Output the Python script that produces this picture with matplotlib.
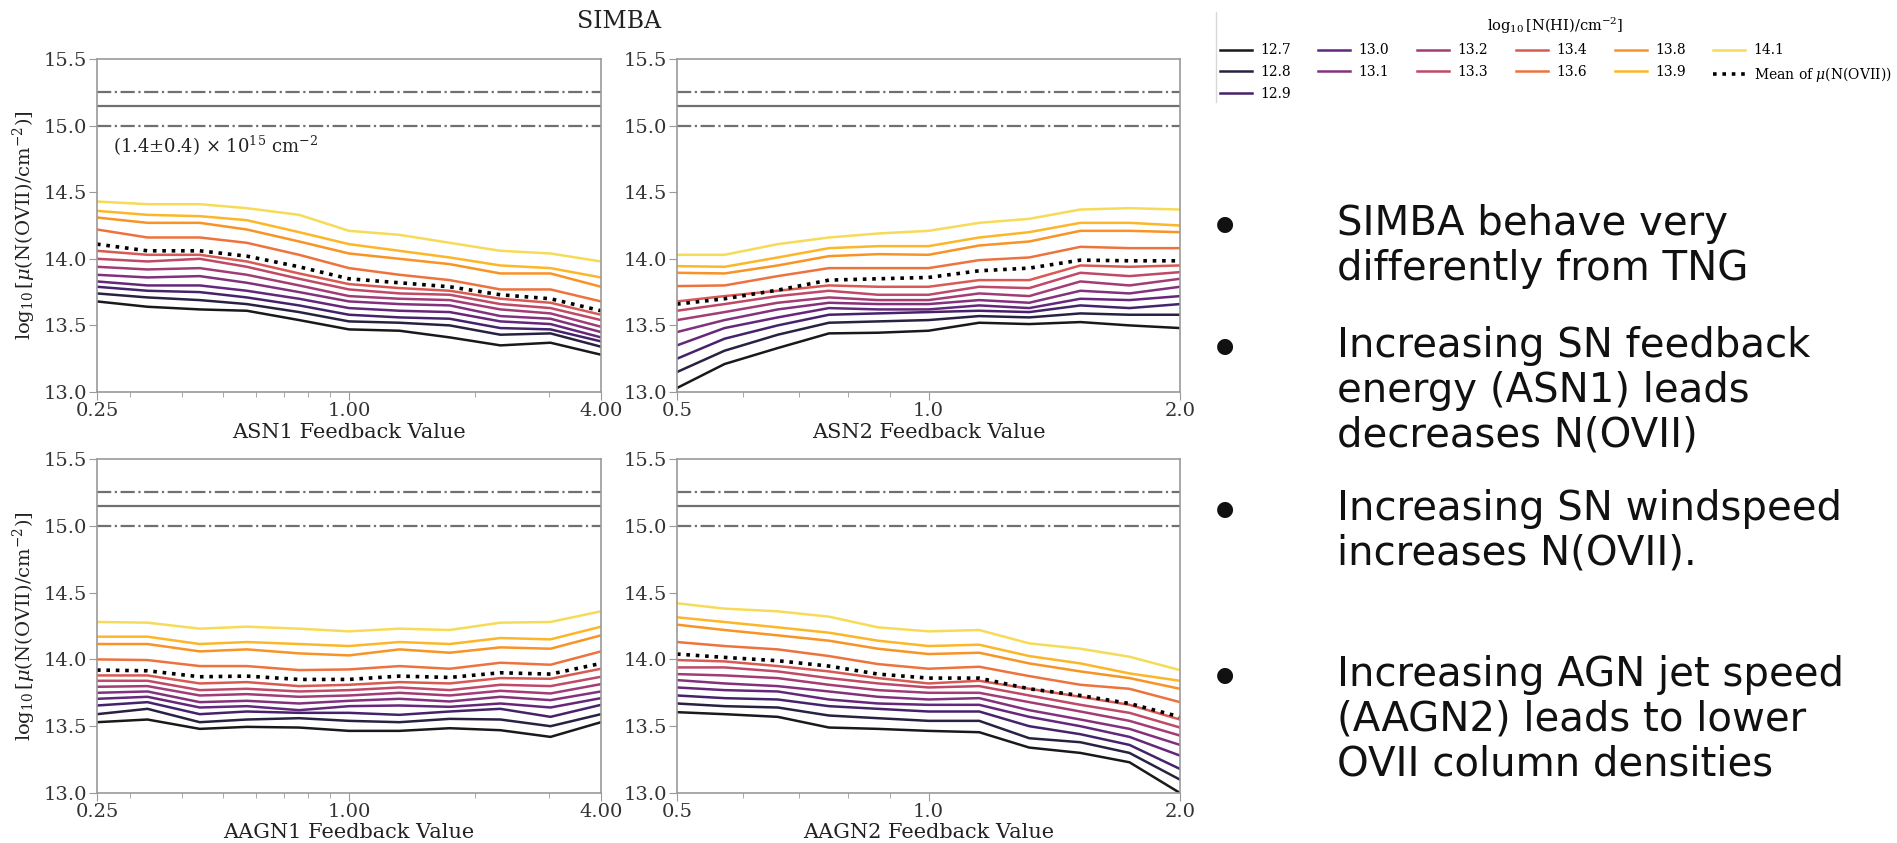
import matplotlib
matplotlib.use("Agg")
import matplotlib.pyplot as plt
import numpy as np
from matplotlib.lines import Line2D
from matplotlib.ticker import FixedLocator, FixedFormatter, NullFormatter

# HI column density thresholds (log10 N(HI)/cm^-2)
hi_levels = ["12.7", "12.8", "12.9", "13.0", "13.1", "13.2",
             "13.3", "13.4", "13.6", "13.8", "13.9", "14.1"]

# feedback parameter values of the 1P runs
asn1_x = [0.25, 0.33, 0.44, 0.57, 0.76, 1.00, 1.32, 1.74, 2.30, 3.03, 4.00]
asn2_x = [0.50, 0.57, 0.66, 0.76, 0.87, 1.00, 1.15, 1.32, 1.52, 1.74, 2.00]
aagn1_x = asn1_x
aagn2_x = asn2_x

# log10 mu(N(OVII)) per HI threshold, low to high
asn1_lines = [
    [13.68, 13.64, 13.62, 13.61, 13.54, 13.47, 13.46, 13.41, 13.35, 13.37, 13.28],
    [13.74, 13.71, 13.69, 13.66, 13.60, 13.53, 13.52, 13.50, 13.43, 13.44, 13.34],
    [13.79, 13.76, 13.75, 13.71, 13.65, 13.58, 13.56, 13.55, 13.48, 13.47, 13.38],
    [13.83, 13.80, 13.80, 13.76, 13.70, 13.63, 13.61, 13.60, 13.53, 13.51, 13.41],
    [13.88, 13.86, 13.87, 13.82, 13.75, 13.68, 13.66, 13.65, 13.57, 13.55, 13.45],
    [13.94, 13.92, 13.93, 13.88, 13.80, 13.72, 13.70, 13.69, 13.62, 13.59, 13.49],
    [14.00, 13.98, 14.00, 13.94, 13.85, 13.77, 13.74, 13.73, 13.66, 13.63, 13.54],
    [14.06, 14.03, 14.03, 13.98, 13.89, 13.81, 13.78, 13.76, 13.70, 13.67, 13.58],
    [14.22, 14.16, 14.16, 14.12, 14.03, 13.93, 13.88, 13.84, 13.77, 13.77, 13.68],
    [14.31, 14.27, 14.27, 14.22, 14.13, 14.04, 14.00, 13.96, 13.89, 13.89, 13.79],
    [14.36, 14.33, 14.32, 14.29, 14.20, 14.11, 14.06, 14.01, 13.95, 13.93, 13.86],
    [14.43, 14.41, 14.41, 14.38, 14.33, 14.21, 14.18, 14.12, 14.06, 14.04, 13.98],
]
asn1_mean = [14.11, 14.06, 14.06, 14.02, 13.94, 13.85, 13.82, 13.79, 13.73, 13.70, 13.61]

asn2_lines = [
    [13.03, 13.21, 13.33, 13.44, 13.445, 13.46, 13.52, 13.51, 13.525, 13.50, 13.48],
    [13.15, 13.31, 13.43, 13.52, 13.53, 13.54, 13.57, 13.56, 13.59, 13.58, 13.58],
    [13.25, 13.40, 13.50, 13.58, 13.59, 13.60, 13.61, 13.60, 13.65, 13.63, 13.66],
    [13.35, 13.48, 13.56, 13.63, 13.62, 13.62, 13.65, 13.63, 13.70, 13.69, 13.72],
    [13.45, 13.54, 13.62, 13.67, 13.66, 13.66, 13.69, 13.67, 13.76, 13.74, 13.79],
    [13.54, 13.60, 13.67, 13.71, 13.69, 13.69, 13.74, 13.72, 13.83, 13.80, 13.85],
    [13.61, 13.66, 13.72, 13.76, 13.73, 13.73, 13.79, 13.78, 13.895, 13.87, 13.90],
    [13.68, 13.72, 13.76, 13.80, 13.79, 13.79, 13.84, 13.84, 13.95, 13.94, 13.95],
    [13.795, 13.80, 13.87, 13.93, 13.93, 13.93, 13.99, 14.01, 14.09, 14.08, 14.08],
    [13.895, 13.89, 13.95, 14.02, 14.035, 14.03, 14.10, 14.13, 14.21, 14.21, 14.20],
    [13.945, 13.94, 14.01, 14.08, 14.095, 14.095, 14.16, 14.20, 14.27, 14.27, 14.25],
    [14.03, 14.03, 14.11, 14.16, 14.19, 14.21, 14.27, 14.30, 14.37, 14.38, 14.37],
]
asn2_mean = [13.66, 13.70, 13.765, 13.84, 13.85, 13.86, 13.91, 13.93, 13.99, 13.985, 13.985]

aagn1_lines = [
    [13.53, 13.55, 13.48, 13.495, 13.49, 13.465, 13.465, 13.485, 13.47, 13.42, 13.53],
    [13.59, 13.63, 13.53, 13.55, 13.56, 13.54, 13.53, 13.555, 13.55, 13.50, 13.59],
    [13.655, 13.68, 13.59, 13.61, 13.60, 13.60, 13.585, 13.61, 13.63, 13.57, 13.66],
    [13.705, 13.72, 13.64, 13.65, 13.62, 13.65, 13.655, 13.645, 13.67, 13.64, 13.71],
    [13.75, 13.76, 13.68, 13.69, 13.67, 13.69, 13.705, 13.685, 13.72, 13.695, 13.76],
    [13.795, 13.80, 13.73, 13.74, 13.72, 13.73, 13.75, 13.73, 13.765, 13.745, 13.815],
    [13.84, 13.84, 13.77, 13.78, 13.76, 13.77, 13.79, 13.77, 13.81, 13.80, 13.87],
    [13.88, 13.88, 13.82, 13.83, 13.80, 13.81, 13.83, 13.82, 13.86, 13.855, 13.93],
    [14.00, 13.995, 13.95, 13.95, 13.92, 13.925, 13.95, 13.93, 13.975, 13.96, 14.06],
    [14.115, 14.115, 14.06, 14.075, 14.045, 14.03, 14.075, 14.05, 14.09, 14.08, 14.18],
    [14.17, 14.17, 14.115, 14.13, 14.115, 14.10, 14.13, 14.115, 14.16, 14.15, 14.245],
    [14.28, 14.275, 14.23, 14.245, 14.23, 14.21, 14.23, 14.22, 14.275, 14.28, 14.36],
]
aagn1_mean = [13.92, 13.915, 13.87, 13.875, 13.85, 13.85, 13.875, 13.865, 13.90, 13.89, 13.97]

aagn2_lines = [
    [13.605, 13.59, 13.57, 13.49, 13.48, 13.465, 13.455, 13.34, 13.30, 13.23, 13.00],
    [13.67, 13.65, 13.64, 13.58, 13.56, 13.54, 13.54, 13.41, 13.38, 13.30, 13.10],
    [13.73, 13.71, 13.70, 13.65, 13.63, 13.61, 13.61, 13.50, 13.44, 13.36, 13.18],
    [13.79, 13.77, 13.76, 13.70, 13.67, 13.66, 13.66, 13.57, 13.50, 13.42, 13.28],
    [13.845, 13.82, 13.80, 13.76, 13.72, 13.70, 13.71, 13.62, 13.55, 13.48, 13.36],
    [13.89, 13.88, 13.86, 13.81, 13.77, 13.75, 13.75, 13.68, 13.61, 13.54, 13.43],
    [13.94, 13.94, 13.91, 13.86, 13.82, 13.79, 13.80, 13.73, 13.66, 13.60, 13.49],
    [13.995, 13.985, 13.95, 13.91, 13.86, 13.82, 13.84, 13.78, 13.72, 13.66, 13.55],
    [14.13, 14.10, 14.075, 14.025, 13.965, 13.93, 13.945, 13.875, 13.81, 13.78, 13.68],
    [14.26, 14.22, 14.18, 14.14, 14.08, 14.04, 14.05, 13.97, 13.91, 13.86, 13.78],
    [14.315, 14.28, 14.24, 14.20, 14.14, 14.10, 14.11, 14.025, 13.97, 13.895, 13.84],
    [14.42, 14.38, 14.36, 14.32, 14.24, 14.21, 14.22, 14.12, 14.08, 14.02, 13.92],
]
aagn2_mean = [14.04, 14.015, 13.99, 13.95, 13.89, 13.86, 13.86, 13.78, 13.73, 13.67, 13.57]

# observed OVII column: (1.4 +/- 0.4) x 10^15 cm^-2
obs_center = np.log10(1.4e15)
obs_low = np.log10(1.0e15)
obs_high = np.log10(1.8e15)

bullets = [
    "SIMBA behave very\ndifferently from TNG",
    "Increasing SN feedback\nenergy (ASN1) leads\ndecreases N(OVII)",
    "Increasing SN windspeed\nincreases N(OVII).",
    "Increasing AGN jet speed\n(AAGN2) leads to lower\nOVII column densities",
]

W, H = 1897, 843


def px_axes(fig, left, top, right, bottom):
    return fig.add_axes([left / W, 1 - bottom / H, (right - left) / W, (bottom - top) / H])


def draw_panel(ax, x, lines, mean, xlabel, xticks, xticklabels, colors):
    for level, y, c in zip(hi_levels, lines, colors):
        ax.plot(x, y, color=c, lw=1.8, alpha=0.9, label=level)
    ax.plot(x, mean, color="black", lw=2.6, ls=(0, (1, 1.6)), label=r"Mean of $\mu$(N(OVII))")
    ax.axhline(obs_center, color="#707070", lw=1.6)
    ax.axhline(obs_low, color="#707070", lw=1.6, ls="-.")
    ax.axhline(obs_high, color="#707070", lw=1.6, ls="-.")

    ax.set_xscale("log")
    ax.set_xlim(x[0], x[-1])
    ax.set_ylim(13.0, 15.5)
    ax.xaxis.set_major_locator(FixedLocator(xticks))
    ax.xaxis.set_major_formatter(FixedFormatter(xticklabels))
    ax.xaxis.set_minor_formatter(NullFormatter())
    ax.set_yticks(np.arange(13.0, 15.51, 0.5))
    ax.set_yticklabels([f"{v:.1f}" for v in np.arange(13.0, 15.51, 0.5)])
    ax.set_xlabel(xlabel, fontsize=15, color="#222222", labelpad=2)

    for s in ax.spines.values():
        s.set_color("#9a9a9a")
        s.set_linewidth(1.2)
    ax.tick_params(which="both", colors="#9a9a9a", labelcolor="#333333", labelsize=14, pad=1)
    ax.tick_params(which="major", length=6)
    ax.tick_params(which="minor", length=3.5)


def main() -> None:
    plt.rcParams["font.family"] = "DejaVu Serif"
    plt.rcParams["mathtext.fontset"] = "dejavuserif"

    colors = plt.cm.inferno(np.linspace(0.0, 0.9, len(hi_levels)))

    fig = plt.figure(figsize=(W / 100, H / 100), dpi=100)

    ax_tl = px_axes(fig, 97, 59, 601, 392)
    ax_tr = px_axes(fig, 677, 59, 1180, 392)
    ax_bl = px_axes(fig, 97, 459, 601, 793)
    ax_br = px_axes(fig, 677, 459, 1180, 793)

    wide_ticks = ([0.25, 1.0, 4.0], ["0.25", "1.00", "4.00"])
    narrow_ticks = ([0.5, 1.0, 2.0], ["0.5", "1.0", "2.0"])

    draw_panel(ax_tl, asn1_x, asn1_lines, asn1_mean, "ASN1 Feedback Value", *wide_ticks, colors)
    draw_panel(ax_tr, asn2_x, asn2_lines, asn2_mean, "ASN2 Feedback Value", *narrow_ticks, colors)
    draw_panel(ax_bl, aagn1_x, aagn1_lines, aagn1_mean, "AAGN1 Feedback Value", *wide_ticks, colors)
    draw_panel(ax_br, aagn2_x, aagn2_lines, aagn2_mean, "AAGN2 Feedback Value", *narrow_ticks, colors)

    ylabel = r"$\log_{10}[\mu(\mathrm{N(OVII)/cm^{-2}})]$"
    ax_tl.set_ylabel(ylabel, fontsize=14, color="#222222", labelpad=4)
    ax_bl.set_ylabel(ylabel, fontsize=14, color="#222222", labelpad=4)

    ax_tl.text(0.032, 14.85, r"(1.4$\pm$0.4) $\times$ 10$^{15}$ cm$^{-2}$",
               transform=ax_tl.get_yaxis_transform(), fontsize=13,
               color="#222222", va="center")

    fig.text(619 / W, 1 - 21 / H, "SIMBA", fontsize=17, color="#222222",
             ha="center", va="center")

    # legend shared by all panels
    handles, labels = ax_tl.get_legend_handles_labels()
    fig.legend(handles, labels, loc="upper left", bbox_to_anchor=(1214 / W, 1 - 10 / H),
               ncol=6, frameon=False, fontsize=10, title=r"$\log_{10}[\mathrm{N(HI)/cm^{-2}}]$",
               title_fontsize=10.5, handlelength=2.3, handletextpad=0.6,
               columnspacing=2.0, labelspacing=0.55, borderaxespad=0.0)
    fig.add_artist(Line2D([1216 / W, 1216 / W], [1 - 12 / H, 1 - 102 / H],
                          color="#d8d8d8", lw=1.0))

    # bullet notes
    line_h = 45
    tops = [224, 346, 509, 675]
    for text, top in zip(bullets, tops):
        fig.text(1225 / W, 1 - top / H, "\u25cf", fontsize=15, color="#111111",
                 family="DejaVu Sans", ha="center", va="center")
        for k, part in enumerate(text.split("\n")):
            fig.text(1337 / W, 1 - (top + k * line_h) / H, part, fontsize=29,
                     color="#111111", family="DejaVu Sans", ha="left", va="center")

    fig.savefig("out.png", dpi=100)


if __name__ == "__main__":
    main()
